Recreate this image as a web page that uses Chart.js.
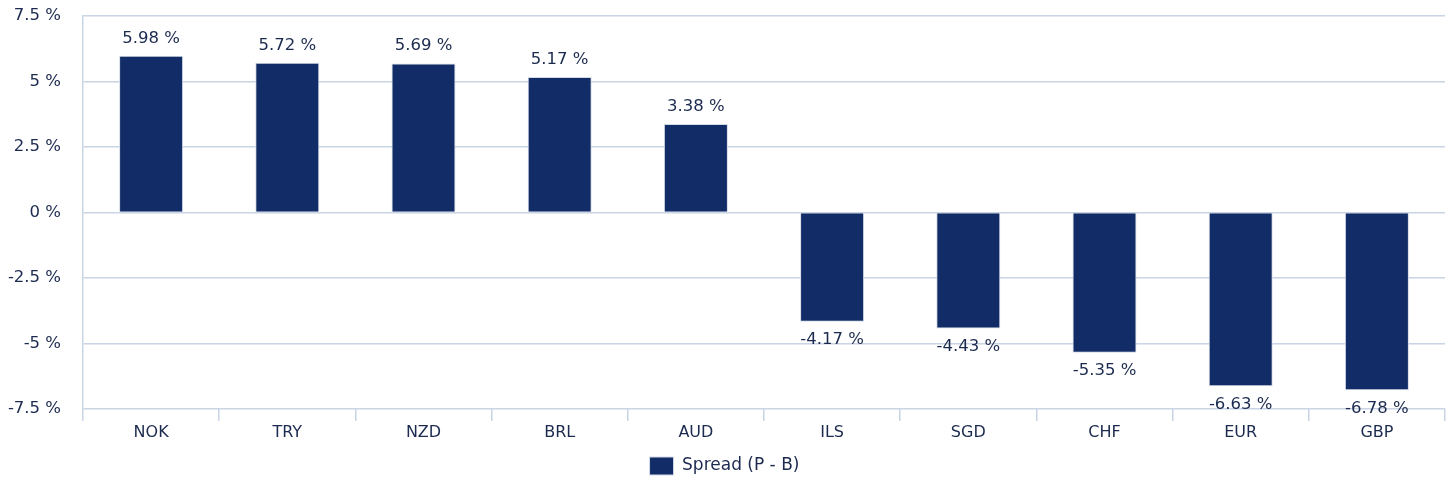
<!DOCTYPE html>
<html>
<head>
<meta charset="utf-8">
<script src="https://cdn.jsdelivr.net/npm/chart.js@4"></script>
<style>
  body { margin: 0; background: #fff; }
  #wrap { width: 1455px; height: 485px; }
</style>
</head>
<body>
<div id="wrap"><canvas id="spreadChart"></canvas></div>
<script>
const currencies = ['NOK', 'TRY', 'NZD', 'BRL', 'AUD', 'ILS', 'SGD', 'CHF', 'EUR', 'GBP'];
const spreadValues = [5.98, 5.72, 5.69, 5.17, 3.38, -4.17, -4.43, -5.35, -6.63, -6.78];
const seriesName = 'Spread (P - B)';

const textColor = '#1b2a4e';
const barColor = '#112c66';
const gridColor = '#c9d4e4';

Chart.defaults.font.family = "'DejaVu Sans', Verdana, sans-serif";
Chart.defaults.font.size = 16;
Chart.defaults.color = textColor;

// draws the value labels above / below each bar
const valueLabels = {
    id: 'valueLabels',
    afterDatasetsDraw(chart) {
        const ctx = chart.ctx;
        const meta = chart.getDatasetMeta(0);
        ctx.save();
        ctx.font = "16.5px 'DejaVu Sans', Verdana, sans-serif";
        ctx.fillStyle = textColor;
        ctx.textAlign = 'center';
        meta.data.forEach((bar, i) => {
            const v = chart.data.datasets[0].data[i];
            const txt = v.toFixed(2) + ' %';
            if (v >= 0) {
                ctx.textBaseline = 'bottom';
                ctx.fillText(txt, bar.x, bar.y - 9);
            } else {
                ctx.textBaseline = 'top';
                ctx.fillText(txt, bar.x, bar.y + 10);
            }
        });
        ctx.restore();
    }
};

const ctx = document.getElementById('spreadChart').getContext('2d');
new Chart(ctx, {
    type: 'bar',
    data: {
        labels: currencies,
        datasets: [{
            label: seriesName,
            data: spreadValues,
            backgroundColor: barColor,
            borderColor: '#d3dae6',
            borderWidth: 1,
            barPercentage: 0.47,
            categoryPercentage: 1
        }]
    },
    options: {
        responsive: true,
        maintainAspectRatio: false,
        animation: false,
        layout: { padding: { top: 16, right: 10, left: 4, bottom: 0 } },
        plugins: {
            legend: {
                position: 'bottom',
                labels: {
                    boxWidth: 24,
                    boxHeight: 18,
                    padding: 5,
                    font: { size: 17 }
                }
            },
            tooltip: { enabled: false }
        },
        scales: {
            x: {
                offset: true,
                afterFit: scale => { scale.height += 7; },
                grid: {
                    offset: true,
                    drawOnChartArea: false,
                    drawTicks: true,
                    tickLength: 12,
                    color: gridColor,
                    lineWidth: 1.5
                },
                border: { display: false },
                ticks: { padding: 4, font: { size: 16, lineHeight: 1 } }
            },
            y: {
                min: -7.5,
                max: 7.5,
                afterFit: scale => {
                    scale.width = 79;
                    scale.paddingTop = 0;
                    scale.paddingBottom = 0;
                },
                grid: {
                    color: gridColor,
                    drawTicks: false,
                    lineWidth: 1.5
                },
                border: { display: true, color: gridColor, width: 1.5 },
                ticks: {
                    stepSize: 2.5,
                    padding: 22,
                    font: { size: 16.5 },
                    callback: v => v + ' %'
                }
            }
        }
    },
    plugins: [valueLabels]
});
</script>
</body>
</html>
